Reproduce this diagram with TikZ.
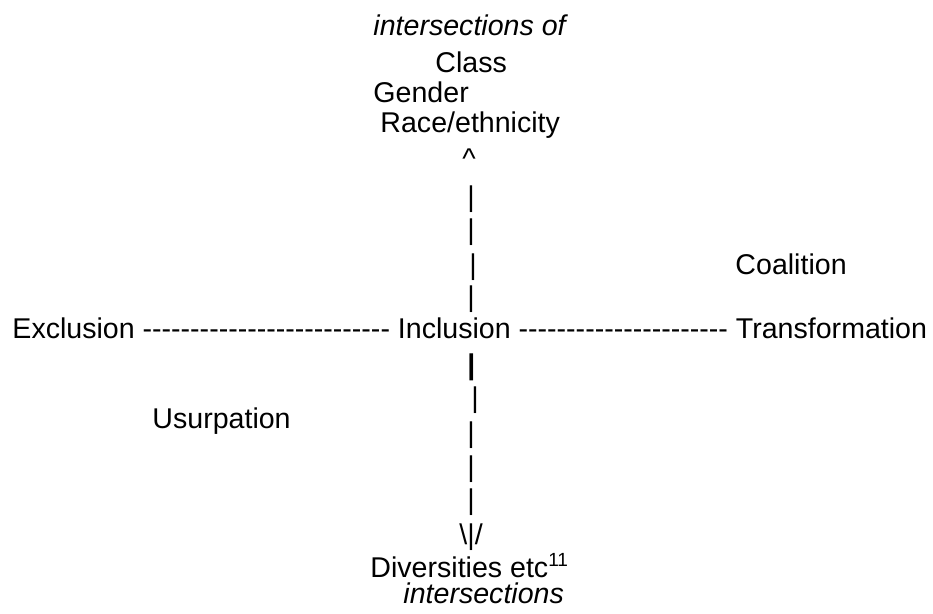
\documentclass[tikz,border=0pt]{standalone}
\usepackage{fontspec}
\setmainfont{Liberation Sans}
\tikzset{
  label text/.style={
    anchor=base west,
    inner sep=0pt,
    font=\fontsize{12}{14}\selectfont,
  },
  axis bar/.style={
    label text,
  }
}
% a row of plain hyphens (no dash ligatures)
\ExplSyntaxOn
\cs_new:Npn \hyphenrow #1 { \prg_replicate:nn {#1} { -\kern0pt } }
\ExplSyntaxOff

\begin{document}
\begin{tikzpicture}[x=0.42pt, y=-0.42pt]
        \useasboundingbox (0,0) rectangle (933,613);

        % top end
        \node [label text] (isect) at (373,35) {\itshape intersections of};
        \node [label text] (class) at (435,72) {Class};
        \node [label text] (gender) at (373,102) {Gender};
        \node [label text] (race) at (380,132) {Race/ethnicity};
        \node [label text] (caret) at (462,168) {\^{}};

        \node [axis bar] (bar1) at (467,206) {|};
        \node [axis bar] (bar2) at (467,239) {|};
        \node [axis bar] (bar3) at (469,274) {|};
        \node [axis bar] (bar4) at (467,306) {|};

        % middle line
        \node [label text] (axis) at (12,338) {Exclusion \hyphenrow{26}\ Inclusion \hyphenrow{22}\ Transformation};
        \node [label text] (coal) at (735,274) {Coalition};
        \node [label text] (usurp) at (152,428) {Usurpation};

        \node [axis bar] (bar5) at (467,374) {\bfseries |};
        \node [axis bar] (bar6) at (471,407) {|};
        \node [axis bar] (bar7) at (467,442) {|};
        \node [axis bar] (bar8) at (467,476) {|};
        \node [axis bar] (bar9) at (467,509) {|};
        \node [label text] (head) at (459,544) {\textbackslash|/};

        % bottom end
        \node [label text] (divers) at (370,577) {Diversities etc\textsuperscript{11}};
        \node [label text] (isect2) at (403,603) {\itshape intersections};
    \end{tikzpicture}
\end{document}
